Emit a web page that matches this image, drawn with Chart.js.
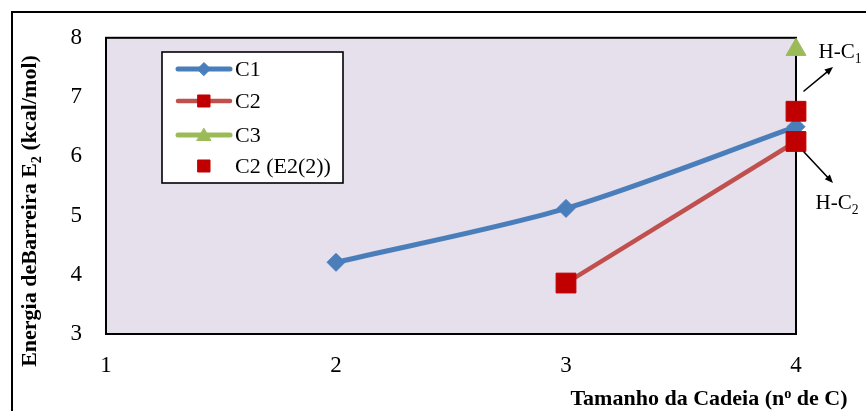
<!DOCTYPE html>
<html>
<head>
<meta charset="utf-8">
<script src="https://cdn.jsdelivr.net/npm/chart.js@4.4.1/dist/chart.umd.min.js"></script>
<style>
  html, body { margin: 0; padding: 0; background: #ffffff; }
  #wrap { width: 866px; height: 411px; position: relative; }
</style>
</head>
<body>
<div id="wrap"><canvas id="chart" width="866" height="411"></canvas></div>
<script>
// Chain length (number of carbons) and barrier energies E2 (kcal/mol)
const c1X = [2, 3, 4];
const c1Y = [4.21, 5.12, 6.5];
const c2X = [3, 4];
const c2Y = [3.86, 6.25];
const c3X = [4];
const c3Y = [7.8];
const c2bX = [4];
const c2bY = [6.76];
const seriesNames = ['C1', 'C2', 'C3', 'C2 (E2(2))'];
const xTicks = [1, 2, 3, 4];
const yTicks = [3, 4, 5, 6, 7, 8];

const SERIF = '"Liberation Serif", "Times New Roman", serif';
const toPoints = (xs, ys) => xs.map((x, i) => ({ x: x, y: ys[i] }));

const datasets = [
  {
    label: seriesNames[0], data: toPoints(c1X, c1Y), showLine: true,
    borderColor: '#4A7EBB', backgroundColor: '#4A7EBB', borderWidth: 5,
    pointStyle: 'rectRot', pointRadius: 9, pointBackgroundColor: '#4A7EBB',
    pointBorderColor: '#4A7EBB', pointBorderWidth: 1, tension: 0.3, order: 4, clip: false
  },
  {
    label: seriesNames[1], data: toPoints(c2X, c2Y), showLine: true,
    borderColor: '#C0504D', backgroundColor: '#C00000', borderWidth: 4.5,
    pointStyle: 'rect', pointRadius: 14, pointBackgroundColor: '#C00000',
    pointBorderColor: '#C00000', pointBorderWidth: 1, order: 3, clip: false
  },
  {
    label: seriesNames[2], data: toPoints(c3X, c3Y), showLine: true,
    borderColor: '#9BBB59', backgroundColor: '#9BBB59', borderWidth: 5,
    pointStyle: 'triangle', pointRadius: 11.5, pointBackgroundColor: '#9BBB59',
    pointBorderColor: '#9BBB59', pointBorderWidth: 1, order: 2, clip: false
  },
  {
    label: seriesNames[3], data: toPoints(c2bX, c2bY), showLine: false,
    borderColor: '#C00000', backgroundColor: '#C00000', borderWidth: 0,
    pointStyle: 'rect', pointRadius: 14, pointBackgroundColor: '#C00000',
    pointBorderColor: '#C00000', pointBorderWidth: 1, order: 1, clip: false
  }
];

// draws a run of text pieces (plain, subscript or superscript), centred on x, baseline y
function drawRich(ctx, parts, x, y, size, bold) {
  const fontOf = p => (bold ? 'bold ' : '') + ((p.sub || p.sup) ? size * 0.65 : size) + 'px ' + SERIF;
  const w = parts.map(p => { ctx.font = fontOf(p); return ctx.measureText(p.t).width; });
  const total = w.reduce((a, b) => a + b, 0);
  let cx = x - total / 2;
  ctx.textBaseline = 'alphabetic';
  ctx.textAlign = 'left';
  parts.forEach((p, i) => {
    ctx.font = fontOf(p);
    const dy = p.sub ? size * 0.22 : p.sup ? -size * 0.3 : 0;
    ctx.fillText(p.t, cx, y + dy);
    cx += w[i];
  });
}

function arrow(ctx, x1, y1, x2, y2) {
  const a = Math.atan2(y2 - y1, x2 - x1);
  const h = 9;
  ctx.save();
  ctx.strokeStyle = '#000'; ctx.fillStyle = '#000'; ctx.lineWidth = 1.6;
  ctx.beginPath(); ctx.moveTo(x1, y1);
  ctx.lineTo(x2 - Math.cos(a) * h * 0.8, y2 - Math.sin(a) * h * 0.8); ctx.stroke();
  ctx.beginPath();
  ctx.moveTo(x2, y2);
  ctx.lineTo(x2 - h * Math.cos(a - 0.4), y2 - h * Math.sin(a - 0.4));
  ctx.lineTo(x2 - h * Math.cos(a + 0.4), y2 - h * Math.sin(a + 0.4));
  ctx.closePath(); ctx.fill();
  ctx.restore();
}

const decor = {
  id: 'decor',
  beforeDraw(chart) {
    const { ctx, chartArea: a } = chart;
    ctx.save();
    ctx.fillStyle = '#ffffff';
    ctx.fillRect(0, 0, chart.width, chart.height);
    // outer frame (top and left edges)
    ctx.strokeStyle = '#000'; ctx.lineWidth = 2;
    ctx.beginPath();
    ctx.moveTo(12, chart.height); ctx.lineTo(12, 12); ctx.lineTo(chart.width, 12);
    ctx.stroke();
    // plot area
    ctx.fillStyle = '#E6E0EC';
    ctx.fillRect(a.left, a.top, a.right - a.left, a.bottom - a.top);
    ctx.restore();
  },
  beforeDatasetsDraw(chart) {
    const { ctx, chartArea: a } = chart;
    ctx.save();
    ctx.strokeStyle = '#000'; ctx.lineWidth = 2;
    ctx.strokeRect(a.left, a.top, a.right - a.left, a.bottom - a.top);
    ctx.restore();
  },
  afterDraw(chart) {
    const { ctx } = chart;
    ctx.save();
    ctx.fillStyle = '#000';
    // axis titles
    drawRich(ctx, [{ t: 'Tamanho da Cadeia (n' }, { t: 'o', sup: true }, { t: ' de C)' }], 709, 405, 22, true);
    ctx.save();
    ctx.translate(36, 211);
    ctx.rotate(-Math.PI / 2);
    drawRich(ctx, [{ t: 'Energia deBarreira E' }, { t: '2', sub: true }, { t: ' (kcal/mol)' }], 0, 0, 22, true);
    ctx.restore();

    // legend
    const lx = 162, ly = 52, lw = 181, lh = 131;
    ctx.fillStyle = '#fff';
    ctx.fillRect(lx, ly, lw, lh);
    ctx.strokeStyle = '#000'; ctx.lineWidth = 1.6;
    ctx.strokeRect(lx, ly, lw, lh);
    const rows = [69, 101, 135, 166];
    chart.data.datasets.forEach((ds, i) => {
      const y = rows[i];
      if (ds.showLine) {
        ctx.strokeStyle = ds.borderColor; ctx.lineWidth = ds.borderWidth;
        ctx.lineCap = 'round';
        ctx.beginPath(); ctx.moveTo(178, y); ctx.lineTo(230, y); ctx.stroke();
      }
      const r = ds.pointStyle === 'rect' ? 8.5 : ds.pointStyle === 'triangle' ? 8 : 6.5;
      ctx.fillStyle = ds.pointBackgroundColor; ctx.strokeStyle = ds.pointBorderColor;
      ctx.lineWidth = 1;
      Chart.helpers.drawPoint(ctx, {
        pointStyle: ds.pointStyle, radius: r, rotation: 0, borderWidth: 1
      }, 204, y + (ds.pointStyle === 'triangle' ? 1.5 : 0));
      ctx.fillStyle = '#000';
      ctx.font = '22px ' + SERIF;
      ctx.textAlign = 'left'; ctx.textBaseline = 'middle';
      ctx.fillText(ds.label, 235, y + 1);
    });

    // bond annotations
    ctx.fillStyle = '#000';
    drawRich(ctx, [{ t: 'H-C' }, { t: '1', sub: true }], 840, 58, 21, false);
    drawRich(ctx, [{ t: 'H-C' }, { t: '2', sub: true }], 837, 209, 21, false);
    arrow(ctx, 804, 91, 833, 67);
    arrow(ctx, 804, 152, 833, 183);
    ctx.restore();
  }
};

new Chart(document.getElementById('chart'), {
  type: 'scatter',
  data: { datasets: datasets },
  options: {
    responsive: false,
    animation: false,
    layout: { padding: { left: 0, right: 70, top: 32, bottom: 0 } },
    plugins: { legend: { display: false }, tooltip: { enabled: false } },
    scales: {
      x: {
        type: 'linear', min: 1, max: 4,
        afterBuildTicks: s => { s.ticks = xTicks.map(v => ({ value: v })); },
        afterFit: s => { s.height = 77; },
        grid: { display: false, drawTicks: false },
        border: { display: false },
        ticks: { color: '#000', padding: 18, font: { family: SERIF, size: 23 } }
      },
      y: {
        type: 'linear', min: 3, max: 8,
        afterBuildTicks: s => { s.ticks = yTicks.map(v => ({ value: v })); },
        afterFit: s => { s.width = 106; },
        grid: { display: false, drawTicks: false },
        border: { display: false },
        ticks: { color: '#000', padding: 24, font: { family: SERIF, size: 23 } }
      }
    }
  },
  plugins: [decor]
});
</script>
</body>
</html>
